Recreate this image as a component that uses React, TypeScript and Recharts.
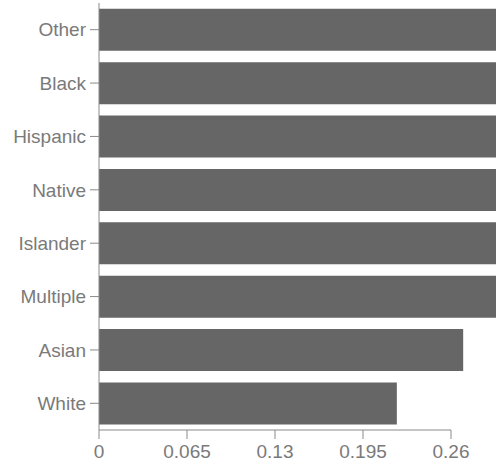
import React from "react";
import { BarChart, Bar, XAxis, YAxis } from "recharts";

const categories = ["Other", "Black", "Hispanic", "Native", "Islander", "Multiple", "Asian", "White"];
const values = [0.36, 0.35, 0.34, 0.33, 0.32, 0.31, 0.269, 0.22];
const xTicks = [0, 0.065, 0.13, 0.195, 0.26];

const data = categories.map((name, i) => ({ name, value: values[i] }));

const FONT = "'Liberation Sans', Arial, Helvetica, sans-serif";
const LABEL = "#7a7a7a";
const AXIS = "#8a8a8a";

export default function App() {
  return (
    <div style={{ position: "absolute", left: 0, top: 0, width: 496, height: 462, overflow: "hidden", background: "#fff" }}>
      <style>{`.recharts-bar, .recharts-bar-rectangles, .recharts-bar-rectangle { clip-path: none !important; }`}</style>
      <BarChart
        width={496}
        height={462}
        data={data}
        layout="vertical"
        margin={{ top: 3, right: 45, bottom: 2, left: 0 }}
        barCategoryGap="11%"
      >
        <XAxis
          type="number"
          domain={[0, 0.26]}
          ticks={xTicks}
          allowDataOverflow
          height={30}
          tickSize={9}
          tickMargin={6}
          stroke={AXIS}
          tick={{ fill: LABEL, fontSize: 19, fontFamily: FONT }}
        />
        <YAxis
          type="category"
          dataKey="name"
          width={99}
          tickSize={9}
          tickMargin={4}
          stroke={AXIS}
          tick={{ fill: LABEL, fontSize: 19, fontFamily: FONT }}
        />
        <Bar dataKey="value" fill="#666666" isAnimationActive={false} />
      </BarChart>
    </div>
  );
}
